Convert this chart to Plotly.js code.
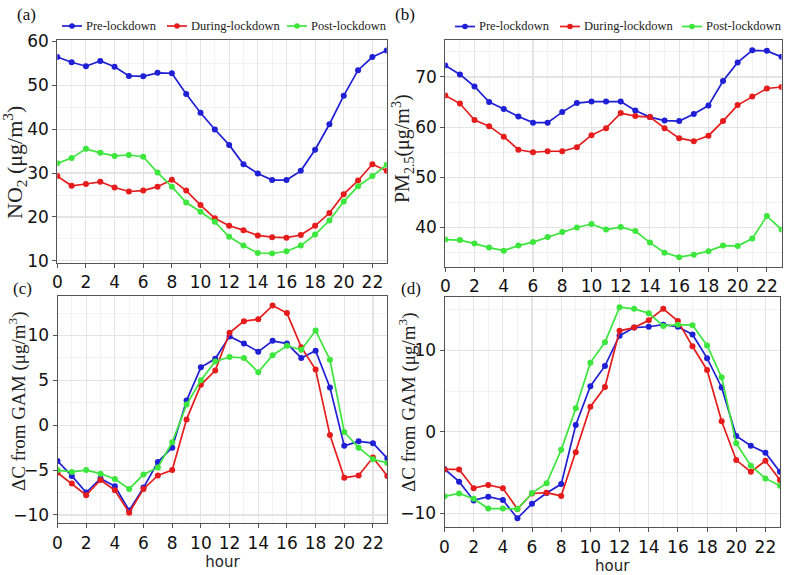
<!DOCTYPE html>
<html>
<head>
<meta charset="utf-8">
<script src="https://cdn.plot.ly/plotly-3.0.1.min.js"></script>
<style>
  html, body { margin: 0; padding: 0; background: #ffffff; }
  #chart { width: 789px; height: 575px; }
</style>
</head>
<body>
<div id="chart"></div>
<script>
// ---------------- data ----------------
var hours = [0,1,2,3,4,5,6,7,8,9,10,11,12,13,14,15,16,17,18,19,20,21,22,23];
var xTickVals = [0,2,4,6,8,10,12,14,16,18,20,22];
var seriesNames = ['Pre-lockdown', 'During-lockdown', 'Post-lockdown'];

// (a) NO2 concentration
var no2Pre    = [56.4,55.2,54.3,55.5,54.2,52.1,52.0,52.8,52.7,48.0,43.7,39.9,36.4,32.0,29.9,28.4,28.4,30.5,35.3,41.1,47.6,53.4,56.4,57.9];
var no2During = [29.3,27.1,27.5,28.0,26.7,25.8,26.0,26.9,28.5,26.0,22.7,19.7,18.0,17.0,15.8,15.4,15.3,15.9,18.0,20.9,25.2,28.3,32.0,30.5];
var no2Post   = [32.2,33.4,35.5,34.6,33.9,34.1,33.7,30.1,26.9,23.3,21.2,18.9,15.5,13.5,11.8,11.7,12.2,13.5,16.0,19.2,23.5,27.0,29.3,31.9];

// (b) PM2.5 concentration
var pmPre    = [72.3,70.5,68.1,65.0,63.6,62.1,60.9,60.9,63.0,64.8,65.1,65.1,65.1,63.3,62.0,61.3,61.2,62.6,64.3,69.2,72.9,75.3,75.2,74.0];
var pmDuring = [66.3,64.7,61.4,60.2,58.1,55.5,55.0,55.2,55.2,56.0,58.4,59.8,62.8,62.2,62.0,59.8,57.8,57.2,58.3,61.2,64.4,66.1,67.7,68.0];
var pmPost   = [37.6,37.5,36.8,36.0,35.4,36.4,37.1,38.1,39.1,40.0,40.7,39.6,40.1,39.3,37.0,35.0,34.1,34.6,35.3,36.4,36.3,37.8,42.3,39.6];

// (c) NO2 deviation from GAM
var dNo2Pre    = [-4.0,-5.65,-7.5,-5.95,-6.8,-9.5,-6.95,-4.1,-2.5,2.75,6.45,7.4,9.9,9.1,8.2,9.4,9.1,7.5,8.3,4.2,-2.3,-1.8,-2.0,-3.7];
var dNo2During = [-5.3,-6.5,-7.8,-6.1,-7.25,-9.75,-7.1,-5.6,-5.0,0.65,4.5,6.1,10.3,11.6,11.8,13.35,12.5,8.7,6.2,-1.1,-5.85,-5.6,-3.6,-5.65];
var dNo2Post   = [-5.0,-5.2,-5.0,-5.4,-6.0,-7.1,-5.5,-4.7,-1.9,2.3,5.0,7.1,7.6,7.5,5.9,7.8,8.85,8.4,10.55,7.3,-0.75,-2.5,-3.8,-4.2];

// (d) PM2.5 deviation from GAM
var dPmPre    = [-4.55,-6.1,-8.4,-7.95,-8.35,-10.6,-8.8,-7.5,-6.4,0.85,5.6,8.1,11.8,12.8,12.9,13.15,12.9,11.95,9.05,5.45,-0.5,-1.7,-2.55,-4.9];
var dPmDuring = [-4.6,-4.6,-6.9,-6.5,-6.9,-9.45,-7.55,-7.45,-7.85,-2.5,3.1,5.5,12.4,12.8,13.7,15.1,13.6,10.5,7.6,1.3,-3.45,-4.9,-3.55,-5.9];
var dPmPost   = [-7.9,-7.55,-8.2,-9.4,-9.4,-9.45,-7.5,-6.3,-2.2,2.9,8.5,11.0,15.3,15.1,14.55,13.0,13.15,13.1,10.6,6.7,-1.4,-4.15,-5.7,-6.6];

// ---------------- styles ----------------
var colors = ['#1f1fd6', '#e61c1c', '#3ce63c'];
var serif = 'Liberation Serif, Times New Roman, serif';
var sans = 'DejaVu Sans, Arial, sans-serif';

function makeTraces(ys, xa, ya) {
  return ys.map(function (y, i) {
    return {
      x: hours, y: y, xaxis: xa, yaxis: ya,
      type: 'scatter', mode: 'lines+markers',
      name: seriesNames[i],
      line: { color: colors[i], width: 1.7 },
      marker: { color: colors[i], size: 6 },
      showlegend: false
    };
  });
}

var data = []
  .concat(makeTraces([no2Pre, no2During, no2Post], 'x', 'y'))
  .concat(makeTraces([pmPre, pmDuring, pmPost], 'x2', 'y2'))
  .concat(makeTraces([dNo2Pre, dNo2During, dNo2Post], 'x3', 'y3'))
  .concat(makeTraces([dPmPre, dPmDuring, dPmPost], 'x4', 'y4'));

function xAxis(domain, anchor, withTitle) {
  var ax = {
    domain: domain, anchor: anchor, range: [0, 23],
    tickmode: 'array', tickvals: xTickVals,
    showgrid: true, gridcolor: '#e4e4e4', gridwidth: 1.1,
    minor: { dtick: 1, tick0: 0, showgrid: true, gridcolor: '#efefef', gridwidth: 0.8 },
    showline: true, mirror: true, linecolor: '#555555', linewidth: 1,
    ticks: 'outside', ticklen: 4, tickcolor: '#555555',
    tickfont: { family: sans, size: 17, color: '#111111' },
    zeroline: false
  };
  if (withTitle) {
    ax.title = { text: 'hour', font: { family: sans, size: 15, color: '#222222' }, standoff: 0 };
  }
  return ax;
}
function yAxis(domain, anchor, range, dtick, minorDtick) {
  return {
    domain: domain, anchor: anchor, range: range,
    dtick: dtick, tick0: 0,
    showgrid: true, gridcolor: '#e4e4e4', gridwidth: 1.1,
    minor: { dtick: minorDtick, tick0: 0, showgrid: true, gridcolor: '#efefef', gridwidth: 0.8 },
    showline: true, mirror: true, linecolor: '#555555', linewidth: 1,
    ticks: 'outside', ticklen: 4, tickcolor: '#555555',
    tickfont: { family: sans, size: 17, color: '#111111' },
    zeroline: false
  };
}

function px(x) { return x / 789; }
function py(y) { return 1 - y / 575; }

// legend keys (drawn as layout decoration, positions in page pixels)
var legendRows = [
  { y: 26, starts: [62, 167, 287] },
  { y: 26.5, starts: [455, 560, 682] }
];
var shapes = [];
var annotations = [];
legendRows.forEach(function (row) {
  row.starts.forEach(function (x0, i) {
    shapes.push({ type: 'line', xref: 'paper', yref: 'paper',
      x0: px(x0), x1: px(x0 + 20), y0: py(row.y), y1: py(row.y),
      line: { color: colors[i], width: 1.7 } });
    shapes.push({ type: 'circle', xref: 'paper', yref: 'paper',
      x0: px(x0 + 10 - 2.8), x1: px(x0 + 10 + 2.8), y0: py(row.y + 2.8), y1: py(row.y - 2.8),
      fillcolor: colors[i], line: { color: colors[i], width: 0 } });
    annotations.push({ text: seriesNames[i], xref: 'paper', yref: 'paper',
      x: px(x0 + 22), y: py(row.y), xanchor: 'left', yanchor: 'middle', showarrow: false,
      font: { family: serif, size: 12.5, color: '#222222' } });
  });
});

annotations = annotations.concat([
  { text: '(a)', xref: 'paper', yref: 'paper', x: px(26), y: py(15), xanchor: 'center', yanchor: 'middle', showarrow: false, font: { family: serif, size: 17, color: '#111' } },
  { text: '(b)', xref: 'paper', yref: 'paper', x: px(405), y: py(15), xanchor: 'center', yanchor: 'middle', showarrow: false, font: { family: serif, size: 17, color: '#111' } },
  { text: '(c)', xref: 'paper', yref: 'paper', x: px(22), y: py(288), xanchor: 'center', yanchor: 'middle', showarrow: false, font: { family: serif, size: 17, color: '#111' } },
  { text: '(d)', xref: 'paper', yref: 'paper', x: px(411), y: py(288), xanchor: 'center', yanchor: 'middle', showarrow: false, font: { family: serif, size: 17, color: '#111' } },
  { text: 'NO<sub>2</sub> (μg/m<sup>3</sup>)', xref: 'paper', yref: 'paper', x: px(15), y: py(163), xanchor: 'center', yanchor: 'middle', textangle: -90, showarrow: false, font: { family: serif, size: 22, color: '#222' } },
  { text: 'PM<sub>2.5</sub>(μg/m<sup>3</sup>)', xref: 'paper', yref: 'paper', x: px(403), y: py(148), xanchor: 'center', yanchor: 'middle', textangle: -90, showarrow: false, font: { family: serif, size: 20, color: '#222' } },
  { text: 'ΔC from GAM (μg/m<sup>3</sup>)', xref: 'paper', yref: 'paper', x: px(17), y: py(402), xanchor: 'center', yanchor: 'middle', textangle: -90, showarrow: false, font: { family: serif, size: 19, color: '#222' } },
  { text: 'ΔC from GAM (μg/m<sup>3</sup>)', xref: 'paper', yref: 'paper', x: px(407), y: py(403), xanchor: 'center', yanchor: 'middle', textangle: -90, showarrow: false, font: { family: serif, size: 19, color: '#222' } }
]);

var layout = {
  width: 789, height: 575,
  margin: { l: 0, r: 0, t: 0, b: 0 },
  paper_bgcolor: '#ffffff', plot_bgcolor: '#ffffff',
  showlegend: false,
  xaxis:  xAxis([px(57.3), px(386.7)], 'y', false),
  yaxis:  yAxis([py(262.7), py(40.3)], 'x', [9.6, 60.2], 10, 5),
  xaxis2: xAxis([px(445.3), px(781.5)], 'y2', false),
  yaxis2: yAxis([py(266.7), py(40.3)], 'x2', [32.2, 77.3], 10, 5),
  xaxis3: xAxis([px(57.5), px(387.3)], 'y3', true),
  yaxis3: yAxis([py(523.3), py(296)], 'x3', [-10.93, 14.4], 5, 2.5),
  xaxis4: xAxis([px(444.5), px(780)], 'y4', true),
  yaxis4: yAxis([py(527.3), py(297)], 'x4', [-11.7, 16.55], 10, 5),
  shapes: shapes,
  annotations: annotations
};

Plotly.newPlot('chart', data, layout, { displayModeBar: false, staticPlot: true });
</script>
</body>
</html>
